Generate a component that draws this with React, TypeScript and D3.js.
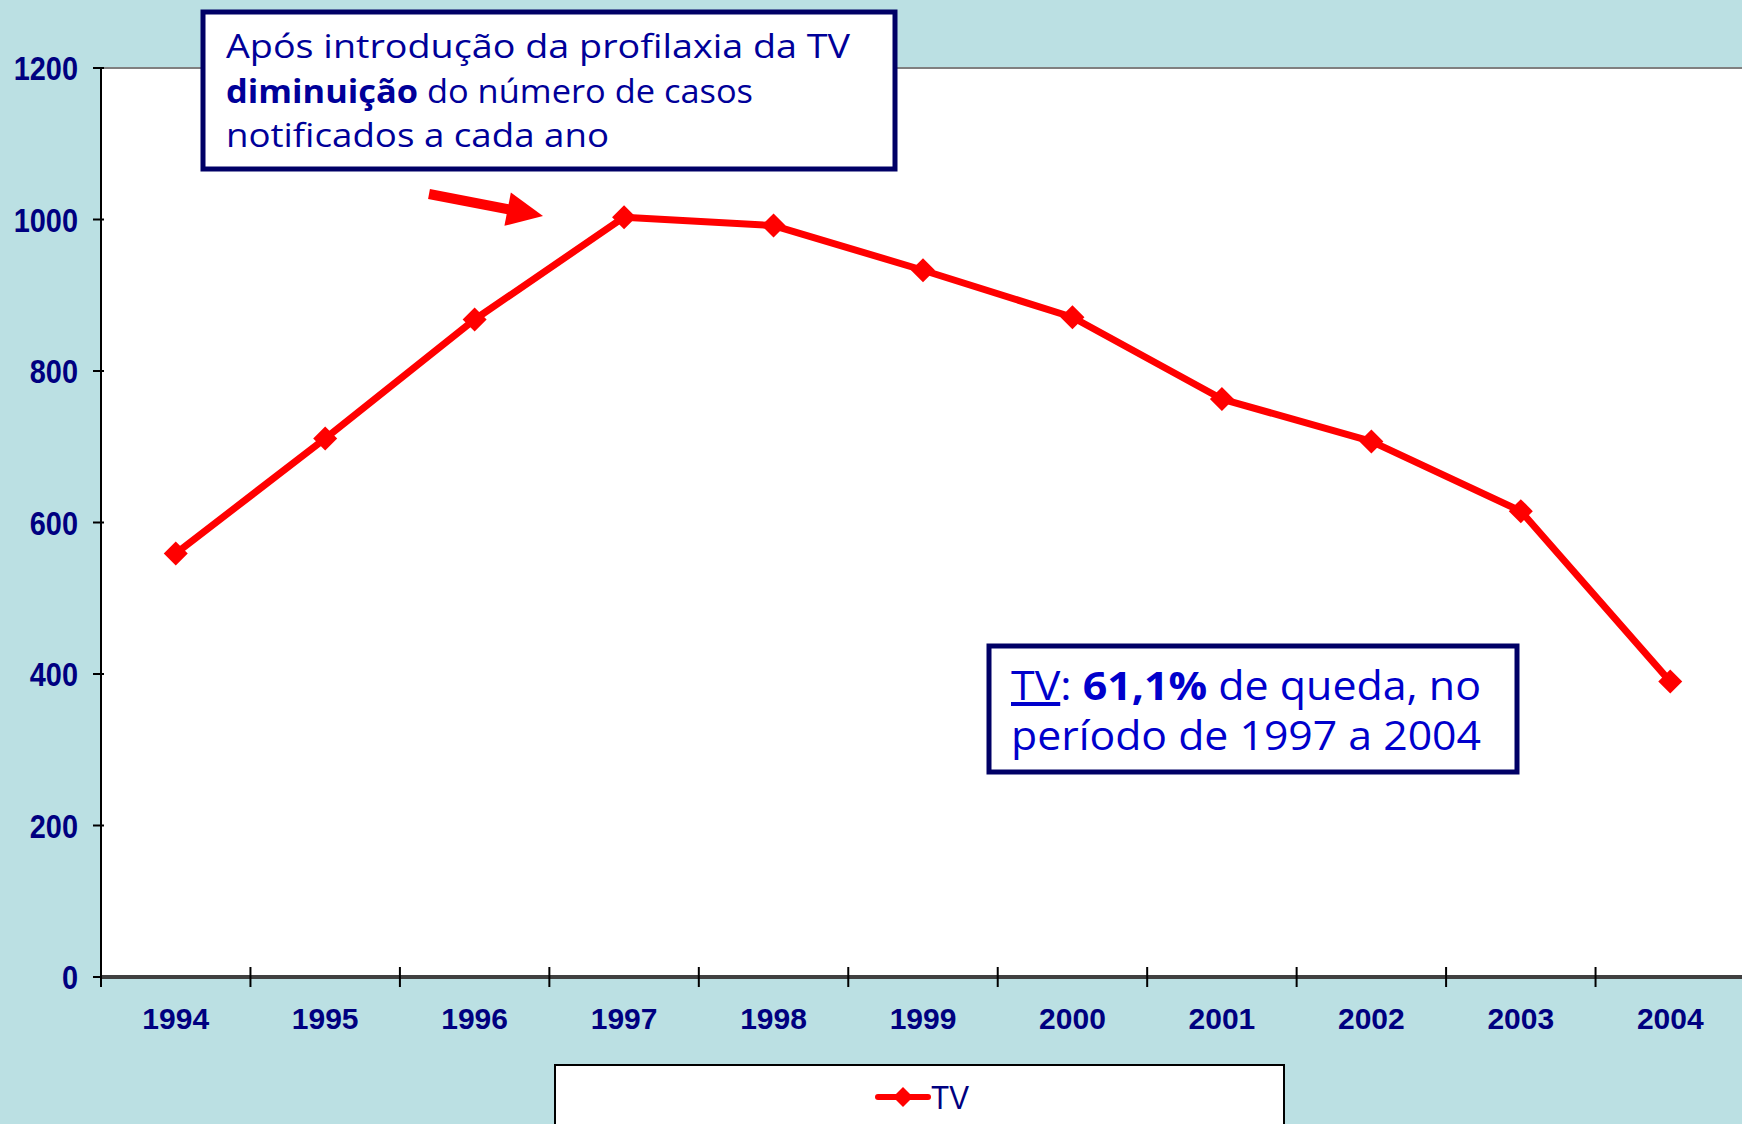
import * as d3 from "d3";

const years = ["1994", "1995", "1996", "1997", "1998", "1999", "2000", "2001", "2002", "2003", "2004"];
const tvCases = [559, 711, 868, 1003, 992, 933, 871, 763, 707, 615, 390];
const yTicks = [0, 200, 400, 600, 800, 1000, 1200];
const seriesName = "TV";

const W = 1742;
const H = 1124;
const plot = { left: 101, right: 1745, top: 68, bottom: 977 };

const BG = "#BBE0E3";
const RED = "#FF0000";
const NAVY = "#000080";

function Diamond({ x, y, r }: { x: number; y: number; r: number }) {
  return <path d={`M${x},${y - r}L${x + r},${y}L${x},${y + r}L${x - r},${y}Z`} fill={RED} />;
}

export default function App() {
  const x = d3.scaleBand<string>().domain(years).range([plot.left, plot.right]).padding(0);
  const y = d3.scaleLinear().domain([0, 1200]).range([plot.bottom, plot.top]);
  const cx = (d: string) => (x(d) ?? 0) + x.bandwidth() / 2;

  const line = d3
    .line<number>()
    .x((_, i) => cx(years[i]))
    .y((d) => y(d));

  const xTickPos = years.map((d) => x(d) ?? 0).concat([plot.right]);

  // arrow pointing at the 1997 peak
  const tail = [429, 194];
  const tip = [543, 216];
  const ang = Math.atan2(tip[1] - tail[1], tip[0] - tail[0]);
  const len = Math.hypot(tip[0] - tail[0], tip[1] - tail[1]);

  return (
    <svg width={W} height={H} style={{ position: "absolute", left: 0, top: 0 }}>
      <rect width={W} height={H} fill={BG} />
      <rect x={plot.left} y={plot.top} width={W - plot.left} height={plot.bottom - plot.top} fill="#FFFFFF" />
      <line x1={plot.left} x2={W} y1={plot.top} y2={plot.top} stroke="#808080" strokeWidth={2} />

      {/* y axis */}
      <line x1={plot.left} x2={plot.left} y1={plot.top} y2={plot.bottom} stroke="#000" strokeWidth={2} />
      {yTicks.map((t) => (
        <g key={t}>
          <line x1={plot.left - 8} x2={plot.left + 3} y1={y(t)} y2={y(t)} stroke="#000" strokeWidth={2} />
          <text
            transform={`translate(${plot.left - 23},${y(t) + 12}) scale(0.85,1)`}
            textAnchor="end"
            fontFamily="Liberation Sans, Arial, sans-serif"
            fontWeight="bold"
            fontSize={34}
            fill={NAVY}
          >
            {t}
          </text>
        </g>
      ))}

      {/* x axis */}
      <line x1={plot.left} x2={W} y1={plot.bottom} y2={plot.bottom} stroke="#404040" strokeWidth={4} />
      {xTickPos.map((p, i) => (
        <line key={i} x1={p} x2={p} y1={plot.bottom - 10} y2={plot.bottom + 10} stroke="#000" strokeWidth={2} />
      ))}
      {years.map((d) => (
        <text
          key={d}
          x={cx(d)}
          y={plot.bottom + 52}
          textAnchor="middle"
          fontFamily="Liberation Sans, Arial, sans-serif"
          fontWeight="bold"
          fontSize={30}
          fill={NAVY}
        >
          {d}
        </text>
      ))}

      {/* series */}
      <path d={line(tvCases) ?? ""} fill="none" stroke={RED} strokeWidth={7} strokeLinejoin="round" />
      {tvCases.map((v, i) => (
        <Diamond key={years[i]} x={cx(years[i])} y={y(v)} r={12} />
      ))}

      {/* annotation box 1 */}
      <rect x={203} y={12} width={692} height={157} fill="#FFFFFF" stroke="#000066" strokeWidth={5} />
      <g fontFamily="Open Sans, DejaVu Sans, sans-serif" fontSize={33} fill="#000099">
        <text x={226} y={58} textLength={624} lengthAdjust="spacingAndGlyphs">
          Após introdução da profilaxia da TV
        </text>
        <text x={226} y={103} textLength={527} lengthAdjust="spacingAndGlyphs">
          <tspan fontWeight="bold">diminuição</tspan> do número de casos
        </text>
        <text x={226} y={147} textLength={383} lengthAdjust="spacingAndGlyphs">
          notificados a cada ano
        </text>
      </g>

      {/* arrow */}
      <g transform={`translate(${tail[0]},${tail[1]}) rotate(${(ang * 180) / Math.PI})`}>
        <rect x={0} y={-5} width={len - 32} height={10} fill={RED} />
        <path d={`M${len - 36},-17L${len},0L${len - 36},17Z`} fill={RED} />
      </g>

      {/* annotation box 2 */}
      <rect x={989} y={646} width={528} height={126} fill="#FFFFFF" stroke="#000066" strokeWidth={5} />
      <g fontFamily="Open Sans, DejaVu Sans, sans-serif" fontSize={40} fill="#0000CC">
        <text x={1011} y={700} textLength={470} lengthAdjust="spacingAndGlyphs">
          <tspan textDecoration="underline">TV</tspan>: <tspan fontWeight="bold">61,1%</tspan> de queda, no
        </text>
        <text x={1011} y={750} textLength={470} lengthAdjust="spacingAndGlyphs">
          período de 1997 a 2004
        </text>
      </g>

      {/* legend */}
      <rect x={555} y={1065} width={729} height={80} fill="#FFFFFF" stroke="#000" strokeWidth={2} />
      <line x1={878} x2={928} y1={1097} y2={1097} stroke={RED} strokeWidth={6} strokeLinecap="round" />
      <Diamond x={903} y={1097} r={10} />
      <text
        transform={`translate(${931},${1109}) scale(0.9,1)`}
        fontFamily="Liberation Sans, Arial, sans-serif"
        fontSize={33}
        fill={NAVY}
      >
        {seriesName}
      </text>
    </svg>
  );
}
